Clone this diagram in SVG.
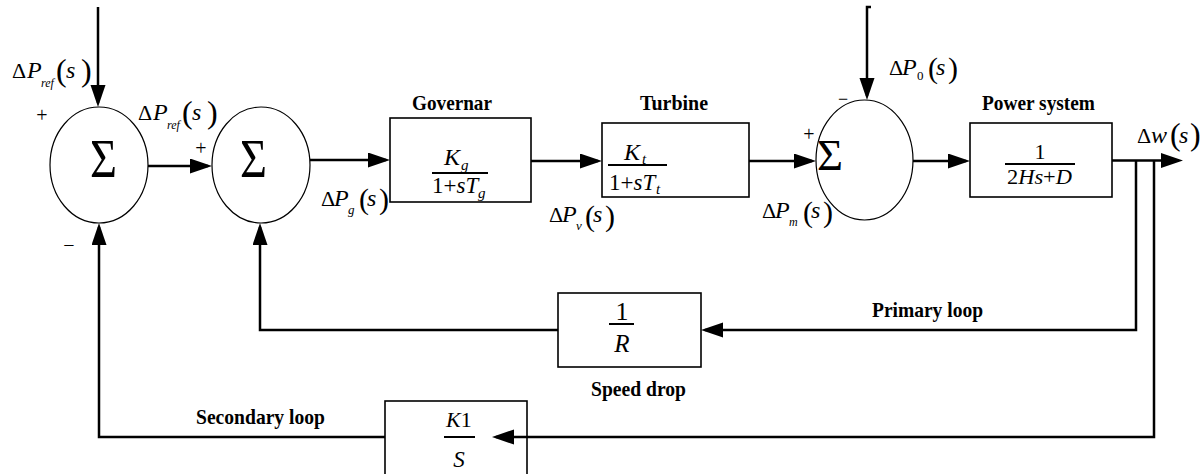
<svg xmlns="http://www.w3.org/2000/svg" width="1201" height="474" viewBox="0 0 1201 474">
<style>
.bg{fill:#fff}
.sum{fill:none;stroke:#000;stroke-width:1.2}
.box{fill:none;stroke:#000;stroke-width:1.6}
.conn{fill:none;stroke:#000;stroke-width:2.5}
.fl{stroke:#000;stroke-width:2}
.m{font-family:"Liberation Serif","Times New Roman",serif;fill:#000}
.i{font-style:italic}
.b{font-family:"Liberation Serif","Times New Roman",serif;font-weight:bold;font-size:21px;fill:#000}
.sig{font-family:"Liberation Serif","Times New Roman",serif;fill:#000}
</style>
<defs>
<marker id="ah" markerUnits="userSpaceOnUse" markerWidth="24" markerHeight="16" refX="18" refY="7.5" orient="auto">
<path d="M0,0 L22,7.5 L0,15 Z" fill="#000"/>
</marker>
</defs>
<rect class="bg" x="0" y="0" width="1201" height="474"/>

<g id="sum1">
<ellipse class="sum" cx="99" cy="165" rx="49" ry="58"/>
<text class="sig" x="90" y="177" font-size="54" textLength="27" lengthAdjust="spacingAndGlyphs">Σ</text>
</g>
<g id="sum2">
<ellipse class="sum" cx="261" cy="165" rx="49" ry="58"/>
<text class="sig" x="240" y="177" font-size="54" textLength="27" lengthAdjust="spacingAndGlyphs">Σ</text>
</g>
<g id="sum3">
<ellipse class="sum" cx="864.5" cy="160" rx="48.5" ry="60"/>
<text class="sig" x="817" y="170" font-size="45" textLength="26" lengthAdjust="spacingAndGlyphs">Σ</text>
</g>

<g id="governor">
<rect class="box" x="390" y="118" width="141" height="84"/>
<text class="b" x="412" y="110" textLength="80" lengthAdjust="spacingAndGlyphs">Governar</text>
<text class="m i" x="444" y="165" font-size="24">K</text>
<text class="m i" x="461" y="170" font-size="15">g</text>
<line class="fl" x1="432" y1="173" x2="488" y2="173"/>
<text class="m" x="432" y="193" font-size="23">1+<tspan class="i">sT</tspan></text>
<text class="m i" x="478" y="198" font-size="15">g</text>
</g>

<g id="turbine">
<rect class="box" x="602" y="123" width="147" height="74"/>
<text class="b" x="640" y="110" textLength="68" lengthAdjust="spacingAndGlyphs">Turbine</text>
<text class="m i" x="624" y="160" font-size="24">K</text>
<text class="m i" x="642" y="164" font-size="15">t</text>
<line class="fl" x1="608" y1="165" x2="667" y2="165"/>
<text class="m" x="609" y="190" font-size="23">1+<tspan class="i">sT</tspan></text>
<text class="m i" x="656" y="194" font-size="15">t</text>
</g>

<g id="power-system">
<rect class="box" x="970" y="123" width="142" height="74"/>
<text class="b" x="982" y="110" textLength="113" lengthAdjust="spacingAndGlyphs">Power system</text>
<text class="m" x="1040" y="159" font-size="22" text-anchor="middle">1</text>
<line class="fl" x1="1005" y1="164" x2="1075" y2="164"/>
<text class="m" x="1007" y="184" font-size="22" textLength="65" lengthAdjust="spacingAndGlyphs">2<tspan class="i">Hs</tspan>+<tspan class="i">D</tspan></text>
</g>

<g id="speed-drop">
<rect class="box" x="558" y="293" width="143" height="74"/>
<text class="m" x="622" y="320" font-size="26" text-anchor="middle">1</text>
<line class="fl" x1="609" y1="324" x2="634" y2="324"/>
<text class="m i" x="622" y="352" font-size="25" text-anchor="middle">R</text>
<text class="b" x="591" y="396" textLength="95" lengthAdjust="spacingAndGlyphs">Speed drop</text>
</g>

<g id="integrator">
<rect class="box" x="385" y="401" width="142" height="80"/>
<text class="m" x="446" y="427" font-size="22"><tspan class="i">K</tspan>1</text>
<line class="fl" x1="444" y1="437" x2="475" y2="437"/>
<text class="m i" x="459" y="467" font-size="23" text-anchor="middle">S</text>
</g>

<g id="connectors">
<path class="conn" d="M98,7 V103" marker-end="url(#ah)"/>
<path class="conn" d="M148,166 H208" marker-end="url(#ah)"/>
<path class="conn" d="M310,160 H386" marker-end="url(#ah)"/>
<path class="conn" d="M531,161 H598" marker-end="url(#ah)"/>
<path class="conn" d="M749,161 H812" marker-end="url(#ah)"/>
<path class="conn" d="M871,7 H867 V96" marker-end="url(#ah)"/>
<path class="conn" d="M913,161 H966" marker-end="url(#ah)"/>
<path class="conn" d="M1112,160.5 H1179" marker-end="url(#ah)"/>
<path class="conn" d="M1136,160.5 V330 H705" marker-end="url(#ah)"/>
<path class="conn" d="M1154,160.5 V437 H496" marker-end="url(#ah)"/>
<path class="conn" d="M558,330 H260 V227" marker-end="url(#ah)"/>
<path class="conn" d="M385,437 H99 V227" marker-end="url(#ah)"/>
</g>

<g id="labels">
<text class="b" x="872" y="317" textLength="111" lengthAdjust="spacingAndGlyphs">Primary loop</text>
<text class="b" x="196" y="424" textLength="129" lengthAdjust="spacingAndGlyphs">Secondary loop</text>

<g id="dPref1">
<text class="m" x="12" y="78" font-size="22">Δ</text>
<text class="m i" x="27" y="78" font-size="24">P</text>
<text class="m i" x="41" y="87" font-size="12">ref</text>
<text class="m" x="56" y="81" font-size="32">(</text>
<text class="m i" x="66" y="78" font-size="24">s</text>
<text class="m" x="81" y="81" font-size="32">)</text>
</g>
<g id="dPref2" transform="translate(126,42)">
<text class="m" x="12" y="78" font-size="22">Δ</text>
<text class="m i" x="27" y="78" font-size="24">P</text>
<text class="m i" x="41" y="87" font-size="12">ref</text>
<text class="m" x="56" y="81" font-size="32">(</text>
<text class="m i" x="66" y="78" font-size="24">s</text>
<text class="m" x="81" y="81" font-size="32">)</text>
</g>

<g id="dPg">
<text class="m" x="321" y="206" font-size="22">Δ</text>
<text class="m i" x="334" y="206" font-size="24">P</text>
<text class="m i" x="348" y="214" font-size="13">g</text>
<text class="m" x="359" y="209" font-size="30">(</text>
<text class="m i" x="367" y="206" font-size="24">s</text>
<text class="m" x="379" y="209" font-size="30">)</text>
</g>
<g id="dPv">
<text class="m" x="549" y="222" font-size="22">Δ</text>
<text class="m i" x="562" y="222" font-size="24">P</text>
<text class="m i" x="576" y="230" font-size="13">v</text>
<text class="m" x="585" y="226" font-size="30">(</text>
<text class="m i" x="593" y="222" font-size="24">s</text>
<text class="m" x="605" y="226" font-size="30">)</text>
</g>
<g id="dPm">
<text class="m" x="762" y="218" font-size="22">Δ</text>
<text class="m i" x="775" y="218" font-size="24">P</text>
<text class="m i" x="789" y="226" font-size="12">m</text>
<text class="m" x="803" y="222" font-size="30">(</text>
<text class="m i" x="811" y="218" font-size="24">s</text>
<text class="m" x="823" y="222" font-size="30">)</text>
</g>
<g id="dP0">
<text class="m" x="889" y="75" font-size="22">Δ</text>
<text class="m i" x="902" y="75" font-size="24">P</text>
<text class="m" x="917" y="80" font-size="13">0</text>
<text class="m" x="928" y="78" font-size="30">(</text>
<text class="m i" x="936" y="75" font-size="24">s</text>
<text class="m" x="948" y="78" font-size="30">)</text>
</g>
<g id="dw">
<text class="m" x="1137" y="143" font-size="22">Δ</text>
<text class="m i" x="1151" y="143" font-size="24">w</text>
<text class="m" x="1170" y="145" font-size="32">(</text>
<text class="m i" x="1179" y="143" font-size="24">s</text>
<text class="m" x="1190" y="145" font-size="32">)</text>
</g>

<text class="m" x="42" y="122" font-size="20" text-anchor="middle">+</text>
<text class="m" x="201" y="155" font-size="20" text-anchor="middle">+</text>
<text class="m" x="809" y="141" font-size="20" text-anchor="middle">+</text>
<text class="m" x="843" y="105" font-size="18" text-anchor="middle">−</text>
<text class="m" x="69" y="252" font-size="20" text-anchor="middle">−</text>
</g>
</svg>
